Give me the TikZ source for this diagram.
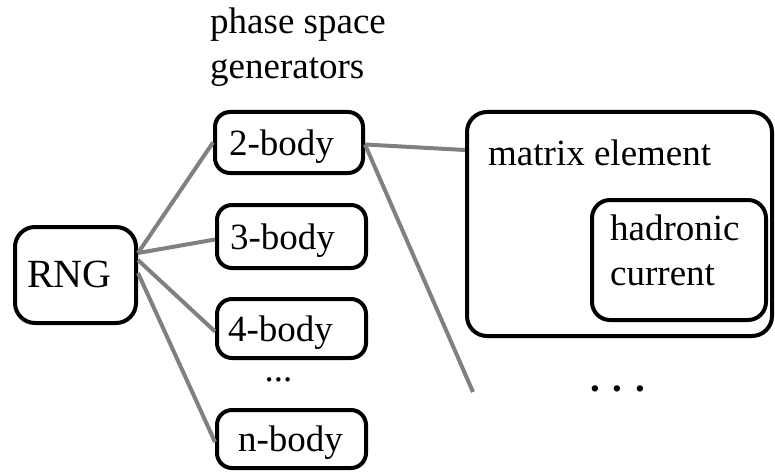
\documentclass[tikz,border=0pt]{standalone}
\usepackage{fontspec}
\setmainfont{LiberationSerif}[Extension=.ttf,UprightFont=*-Regular,BoldFont=*-Bold,ItalicFont=*-Italic,BoldItalicFont=*-BoldItalic]
\begin{document}
\begin{tikzpicture}[x=1pt,y=-1pt,
  every node/.style={font=\rmfamily\fontsize{37}{45}\selectfont},
  box/.style={draw=black,line width=4pt,rounded corners=15pt,fill=white,
    align=left,inner ysep=0pt,text height=31pt,text depth=6pt},
  bigbox/.style={draw=black,line width=4pt,rounded corners=20pt,inner sep=0pt},
  txt/.style={inner sep=0pt,align=left},
  conn/.style={draw={rgb,255:red,128;green,128;blue,128},line width=4pt}]
\useasboundingbox (0,0) rectangle (775,473);

% phase space generators label
\node[txt,anchor=north west] (psg) at (210,7.7) {phase space\\generators};

% RNG
\node[box,font=\rmfamily\fontsize{40}{45}\selectfont,rounded corners=20pt,inner xsep=12pt,text width=97pt,
  minimum height=96pt,text height=28pt,text depth=4pt] (rng) at (75.5,275) {RNG};

% generator boxes
\node[box,inner xsep=14pt,text width=120pt,minimum height=61pt] (b2) at (289,142.5) {2-body};
\node[box,inner xsep=13pt,text width=123pt,minimum height=63pt] (b3) at (291.5,236.5) {3-body};
\node[box,inner xsep=11pt,text width=127pt,minimum height=59pt] (b4) at (291.5,328.5) {4-body};
\node[box,inner xsep=21pt,text width=107pt,minimum height=58pt] (bn) at (291.5,439) {n-body};
\node[txt,anchor=base west] (dots) at (264.5,381) {...};

% matrix element
\node[bigbox,minimum width=305pt,minimum height=224pt] (me) at (619.5,224) {};
\node[txt,anchor=base west] (metext) at (488,165) {matrix element};
\node[bigbox,rounded corners=18pt,minimum width=174pt,minimum height=120pt] (hc) at (679,260) {};
\node[txt,anchor=north west] (hctext) at (610,214.7) {hadronic\\current};
\node[txt,anchor=base west,font=\rmfamily\fontsize{39}{45}\selectfont\bfseries] (bdots) at (590,391) {. . .};

% connectors
\coordinate (free) at (473,392);
\draw[conn] ([yshift=22pt]rng.east) -- (b2.west);
\draw[conn] ([yshift=22pt]rng.east) -- ([yshift=-3pt]b3.west);
\draw[conn] ([yshift=15pt]rng.east) -- ([yshift=-3pt]b4.west);
\draw[conn] ([yshift=2pt]rng.east) -- ([yshift=-3pt]bn.west);
\draw[conn] ([yshift=-2pt]b2.east) -- ([yshift=74pt]me.west);
\draw[conn] ([yshift=-2pt]b2.east) -- (free);
\end{tikzpicture}
\end{document}
